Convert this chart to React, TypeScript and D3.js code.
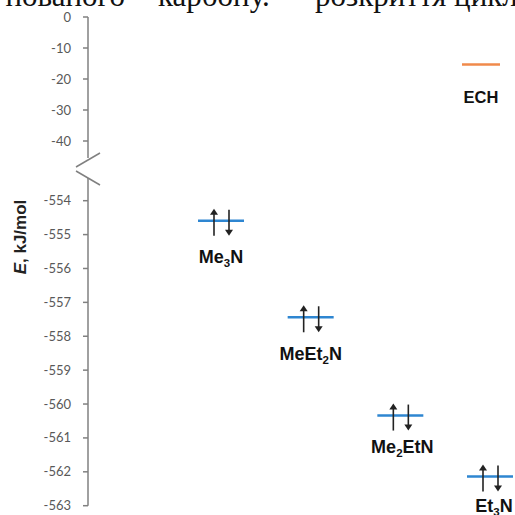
import React from "react";
import * as d3 from "d3";

const LEVEL_CATS = ["Me3N", "MeEt2N", "Me2EtN", "Et3N"];
const LEVEL_VALUES = [-554.59, -557.44, -560.34, -562.14];
const LEVEL_LABELS: [string, string, string][] = [
  ["Me", "3", "N"],
  ["MeEt", "2", "N"],
  ["Me", "2", "EtN"],
  ["Et", "3", "N"],
];
const ECH_LABEL = "ECH";
const ECH_VALUE = -15.3;
const UPPER_TICKS = [0, -10, -20, -30, -40];
const LOWER_TICKS = [-554, -555, -556, -557, -558, -559, -560, -561, -562, -563];
const Y_TITLE_E = "E";
const Y_TITLE_REST = ", kJ/mol";

// layout constants
const W = 515;
const H = 515;
const AXIS_X = 88;
const LABEL_DY = [42, 43, 37, 35];
const LABEL_DX = [0, 0, 2, 4];
const ECH_X = 481;

const BLUE = "#2E86D1";
const ORANGE = "#F08A4B";
const AXIS_COLOR = "#808080";
const TICK_TEXT = "#595959";

function Arrows({ cx, y }: { cx: number; y: number }) {
  const ux = cx - 7;
  const dx = cx + 8;
  const top = y - 12;
  const bot = y + 15;
  return (
    <g stroke="#222" fill="#222">
      <line x1={ux} y1={top + 4} x2={ux} y2={bot} strokeWidth={1.6} />
      <path d={`M${ux - 4},${top + 6} L${ux},${top} L${ux + 4},${top + 6} Z`} stroke="none" />
      <line x1={dx} y1={top + 1} x2={dx} y2={bot - 4} strokeWidth={1.6} />
      <path d={`M${dx - 4},${bot - 6} L${dx},${bot} L${dx + 4},${bot - 6} Z`} stroke="none" />
    </g>
  );
}

export default function App() {
  const yUpper = d3.scaleLinear().domain([0, -40]).range([17, 141]);
  const yLower = d3.scaleLinear().domain([-554, -563]).range([200.7, 505.7]);
  const x = d3.scalePoint<string>().domain(LEVEL_CATS).range([221, 490]);

  const upperEnd = 158;
  const lowerStart = 178;

  return (
    <svg
      width={W}
      height={H}
      style={{ position: "absolute", left: 0, top: 0, background: "#fff" }}
    >
      {/* cropped body text at the top */}
      <g fontFamily="'Liberation Serif', 'DejaVu Serif', serif" fontSize={31} fill="#111">
        <text x={125} y={6} textAnchor="end">нованого</text>
        <text x={158} y={6}>карбону.</text>
        <text x={315} y={6}>розкриття циклу</text>
      </g>

      {/* axis lines */}
      <g stroke={AXIS_COLOR} strokeWidth={1.5} fill="none">
        <line x1={AXIS_X} y1={yUpper(0)} x2={AXIS_X} y2={upperEnd} />
        <line x1={AXIS_X} y1={lowerStart} x2={AXIS_X} y2={yLower(-563)} />
        {UPPER_TICKS.map((t) => (
          <line key={"ut" + t} x1={AXIS_X - 5} x2={AXIS_X} y1={yUpper(t)} y2={yUpper(t)} />
        ))}
        {LOWER_TICKS.map((t) => (
          <line key={"lt" + t} x1={AXIS_X - 5} x2={AXIS_X} y1={yLower(t)} y2={yLower(t)} />
        ))}
        {/* break marks */}
        <line x1={76} y1={167} x2={100} y2={153} />
        <line x1={76} y1={171} x2={100} y2={185} />
      </g>

      {/* tick labels */}
      <g fontFamily="Lato, 'Open Sans', sans-serif" fontSize={13} fill={TICK_TEXT} textAnchor="end">
        {UPPER_TICKS.map((t) => (
          <text key={"ul" + t} x={71} y={yUpper(t)} dy="0.35em">
            {t}
          </text>
        ))}
        {LOWER_TICKS.map((t) => (
          <text key={"ll" + t} x={71} y={yLower(t)} dy="0.35em">
            {t}
          </text>
        ))}
      </g>

      {/* y axis title */}
      <text
        transform={`translate(26,237) rotate(-90)`}
        textAnchor="middle"
        fontFamily="'Liberation Sans', Arial, sans-serif"
        fontWeight="bold"
        fontSize={17}
        fill="#222"
      >
        <tspan fontStyle="italic">{Y_TITLE_E}</tspan>
        {Y_TITLE_REST}
      </text>

      {/* ECH level */}
      <line
        x1={ECH_X - 19}
        x2={ECH_X + 19}
        y1={yUpper(ECH_VALUE)}
        y2={yUpper(ECH_VALUE)}
        stroke={ORANGE}
        strokeWidth={2.4}
      />
      <text
        x={ECH_X}
        y={yUpper(ECH_VALUE) + 39}
        textAnchor="middle"
        fontFamily="'Liberation Sans', Arial, sans-serif"
        fontWeight="bold"
        fontSize={16.5}
        fill="#111"
      >
        {ECH_LABEL}
      </text>

      {/* amine levels */}
      {LEVEL_CATS.map((c, i) => {
        const cx = x(c) as number;
        const y = yLower(LEVEL_VALUES[i]);
        const [a, sub, b] = LEVEL_LABELS[i];
        return (
          <g key={c}>
            <line x1={cx - 23} x2={cx + 23} y1={y} y2={y} stroke={BLUE} strokeWidth={2.4} />
            <Arrows cx={cx} y={y} />
            <text
              x={cx + LABEL_DX[i]}
              y={y + LABEL_DY[i]}
              textAnchor="middle"
              fontFamily="'Liberation Sans', Arial, sans-serif"
              fontWeight="bold"
              fontSize={18}
              fill="#111"
            >
              {a}
              <tspan fontSize={11.5} dy={4}>
                {sub}
              </tspan>
              <tspan dy={-4}>{b}</tspan>
            </text>
          </g>
        );
      })}
    </svg>
  );
}
